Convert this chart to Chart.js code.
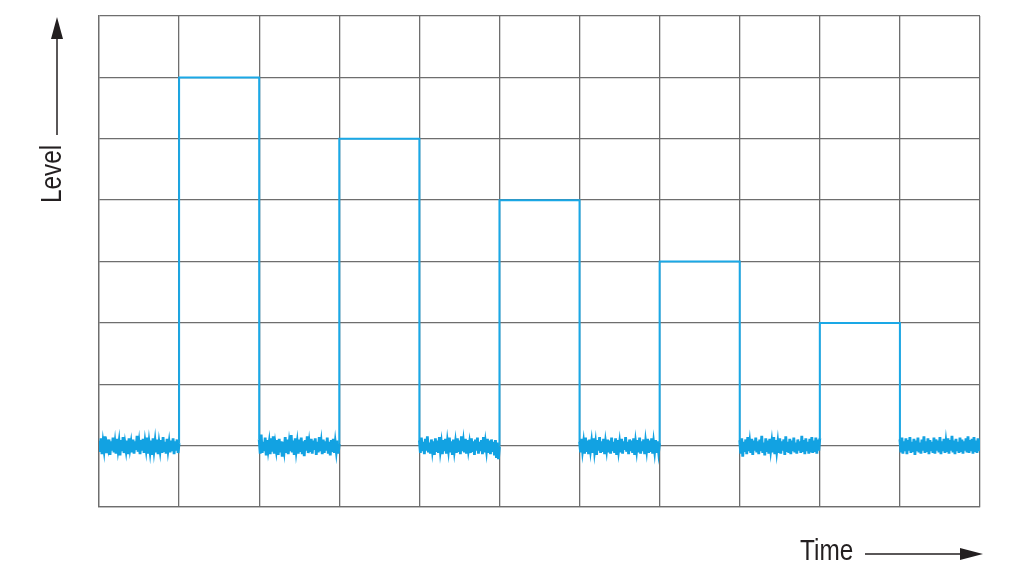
<!DOCTYPE html>
<html>
<head>
<meta charset="utf-8">
<script src="https://cdn.jsdelivr.net/npm/chart.js@4.4.1/dist/chart.umd.min.js"></script>
<style>
  html, body { margin: 0; padding: 0; background: #ffffff; }
  #wrap { width: 1024px; height: 576px; }
</style>
</head>
<body>
<div id="wrap"><canvas id="c" width="1024" height="576"></canvas></div>
<script>
// Pulse data (time in grid divisions, level in grid divisions)
const pulseStarts = [1, 3, 5, 7, 9];
const pulseLevels = [7, 6, 5, 4, 3];
const pulseWidth = 1;

// Noise floor samples (level ~1), one list per gap
const noise0 = [1.08,0.90,1.12,0.86,1.05,0.93,1.15,0.88,1.02,0.95,1.10,0.85,1.07,0.92,1.13,0.89,1.04,0.87,1.11,0.94,1.06,0.84,1.09,0.91,1.14,0.88,1.03,0.92,1.08,0.86,1.12,0.95,1.05,0.89,1.10,0.87,1.07,0.93,1.16,0.90,1.04,0.86,1.09,0.92,1.11,0.88,1.06,0.94,1.13,0.87,1.05,0.91,1.08,0.85,1.12,0.93,1.07,0.89,1.10,0.86,1.04,0.92,1.09,0.88,1.14,0.90,1.06,0.87,1.11,0.93,1.05,0.89,1.08,0.91,1.12,0.86,1.07,0.92,1.10,0.88,1.04];
const noise1 = [1.10,0.87,1.18,0.88,1.06,0.91,1.13,0.84,1.09,0.93,1.05,0.86,1.12,0.90,1.15,0.87,1.03,0.92,1.09,0.85,1.11,0.89,1.07,0.82,1.06,0.93,1.14,0.88,1.10,0.86,1.04,0.91,1.17,0.89,1.08,0.85,1.12,0.92,1.05,0.87,1.10,0.90,1.13,0.86,1.07,0.83,1.09,0.92,1.15,0.88,1.04,0.90,1.11,0.87,1.08,0.93,1.12,0.85,1.06,0.89,1.14,0.91,1.05,0.86,1.10,0.88,1.07,0.92,1.13,0.87,1.06,0.84,1.09,0.90,1.11,0.88,1.05,0.91,1.08,0.87,1.03];
const noise2 = [1.09,0.88,1.13,0.91,1.06,0.86,1.11,0.92,1.15,0.89,1.05,0.87,1.10,0.93,1.07,0.85,1.12,0.90,1.08,0.88,1.14,0.92,1.04,0.86,1.09,0.91,1.11,0.87,1.06,0.93,1.13,0.89,1.07,0.85,1.10,0.92,1.05,0.88,1.12,0.90,1.08,0.86,1.15,0.91,1.06,0.89,1.11,0.87,1.09,0.93,1.04,0.88,1.12,0.90,1.07,0.85,1.10,0.92,1.13,0.87,1.06,0.91,1.09,0.86,1.14,0.89,1.05,0.92,1.11,0.88,1.08,0.86,1.10,0.90,1.06,0.84,1.09,0.80,1.05,0.78,0.98];
const noise3 = [1.07,0.89,1.11,0.92,1.05,0.87,1.13,0.90,1.08,0.86,1.10,0.93,1.06,0.88,1.12,0.91,1.04,0.85,1.09,0.92,1.14,0.88,1.07,0.90,1.11,0.86,1.05,0.93,1.10,0.89,1.08,0.87,1.13,0.91,1.06,0.88,1.12,0.85,1.09,0.92,1.05,0.89,1.11,0.87,1.07,0.93,1.14,0.90,1.06,0.86,1.10,0.91,1.08,0.88,1.12,0.85,1.05,0.92,1.09,0.89,1.13,0.87,1.07,0.91,1.10,0.86,1.06,0.93,1.11,0.88,1.08,0.90,1.12,0.87,1.05,0.91,1.09,0.88,1.07,0.90,1.04];
const noise4 = [1.09,0.87,1.12,0.82,1.06,0.90,1.10,0.86,1.14,0.91,1.05,0.88,1.11,0.85,1.08,0.92,1.13,0.89,1.07,0.86,1.10,0.91,1.16,0.88,1.05,0.84,1.12,0.90,1.08,0.87,1.11,0.93,1.06,0.89,1.14,0.86,1.09,0.91,1.05,0.88,1.12,0.87,1.07,0.92,1.10,0.85,1.15,0.90,1.06,0.88,1.11,0.86,1.08,0.91,1.13,0.89,1.05,0.87,1.10,0.92,1.07,0.88,1.16,0.90,1.09,0.86,1.12,0.91,1.06,0.87,1.11,0.89,1.14,0.88,1.08,0.90,1.13,0.87,1.10,0.92,1.12];
const noise5 = [1.10,0.89,1.13,0.87,1.07,0.91,1.12,0.86,1.09,0.92,1.14,0.88,1.06,0.90,1.11,0.85,1.08,0.91,1.13,0.89,1.05,0.87,1.10,0.92,1.15,0.88,1.07,0.90,1.12,0.86,1.09,0.91,1.06,0.88,1.13,0.87,1.10,0.92,1.08,0.89,1.14,0.86,1.07,0.91,1.11,0.88,1.05,0.90,1.12,0.87,1.09,0.92,1.16,0.89,1.08,0.86,1.11,0.91,1.06,0.88,1.13,0.90,1.10,0.87,1.07,0.92,1.12,0.89,1.15,0.88,1.09,0.91,1.11,0.87,1.14,0.90,1.08,0.88,1.12,0.91,1.10];
const noiseSegments = [noise0, noise1, noise2, noise3, noise4, noise5];
const noiseStarts = [0, 2, 4, 6, 8, 10];

const xMax = 11;
const yMax = 8;

// Build the trace
const trace = [];
noiseSegments.forEach((seg, i) => {
  const n = seg.length - 1;
  seg.forEach((v, k) => trace.push({ x: noiseStarts[i] + k / n, y: v }));
  if (i < pulseStarts.length) {
    trace.push({ x: pulseStarts[i], y: pulseLevels[i] });
    trace.push({ x: pulseStarts[i] + pulseWidth, y: pulseLevels[i] });
  }
});

const labelFont = '29px "Liberation Sans", Arial, sans-serif';
const squeeze = 0.84;

const axisLabels = {
  id: 'axisLabels',
  afterDraw(chart) {
    const ctx = chart.ctx;
    ctx.save();
    ctx.fillStyle = '#231f20';
    ctx.strokeStyle = '#231f20';
    ctx.lineWidth = 1.5;
    // Level label (rotated, condensed)
    ctx.save();
    ctx.translate(53, 174);
    ctx.rotate(-Math.PI / 2);
    ctx.scale(squeeze, 1);
    ctx.font = labelFont;
    ctx.textAlign = 'center';
    ctx.textBaseline = 'middle';
    ctx.fillText('Level', 0, 0);
    ctx.restore();
    // Level arrow
    ctx.beginPath();
    ctx.moveTo(57, 135);
    ctx.lineTo(57, 38);
    ctx.stroke();
    ctx.beginPath();
    ctx.moveTo(57, 17);
    ctx.lineTo(51, 39);
    ctx.lineTo(63, 39);
    ctx.closePath();
    ctx.fill();
    // Time label (condensed)
    ctx.save();
    ctx.translate(800, 560);
    ctx.scale(squeeze, 1);
    ctx.font = labelFont;
    ctx.textAlign = 'left';
    ctx.textBaseline = 'alphabetic';
    ctx.fillText('Time', 0, 0);
    ctx.restore();
    // Time arrow
    ctx.beginPath();
    ctx.moveTo(865, 554);
    ctx.lineTo(962, 554);
    ctx.stroke();
    ctx.beginPath();
    ctx.moveTo(983, 554);
    ctx.lineTo(960, 548);
    ctx.lineTo(960, 560);
    ctx.closePath();
    ctx.fill();
    ctx.restore();
  }
};

new Chart(document.getElementById('c'), {
  type: 'line',
  data: {
    datasets: [{
      data: trace,
      borderColor: '#1aa8e6',
      borderWidth: 2,
      pointRadius: 0,
      tension: 0,
      fill: false,
      segment: {
        borderWidth: (c) => (c.p0.parsed.y < 1.5 && c.p1.parsed.y < 1.5) ? 2.8 : 2,
        borderColor: (c) => (c.p0.parsed.y < 1.5 && c.p1.parsed.y < 1.5) ? '#12a2e2' : '#1aa8e6'
      }
    }]
  },
  options: {
    responsive: false,
    animation: false,
    layout: { padding: { left: 99, right: 44, top: 16, bottom: 69 } },
    plugins: { legend: { display: false }, tooltip: { enabled: false } },
    scales: {
      x: {
        type: 'linear', min: 0, max: xMax,
        ticks: { display: false, stepSize: 1 },
        grid: { color: '#6e6e6e', lineWidth: 1.3, drawTicks: false },
        border: { display: true, color: '#6e6e6e', width: 1.3 }
      },
      y: {
        type: 'linear', min: 0, max: yMax,
        ticks: { display: false, stepSize: 1 },
        grid: { color: '#6e6e6e', lineWidth: 1.3, drawTicks: false },
        border: { display: true, color: '#6e6e6e', width: 1.3 }
      }
    }
  },
  plugins: [axisLabels]
});
</script>
</body>
</html>
